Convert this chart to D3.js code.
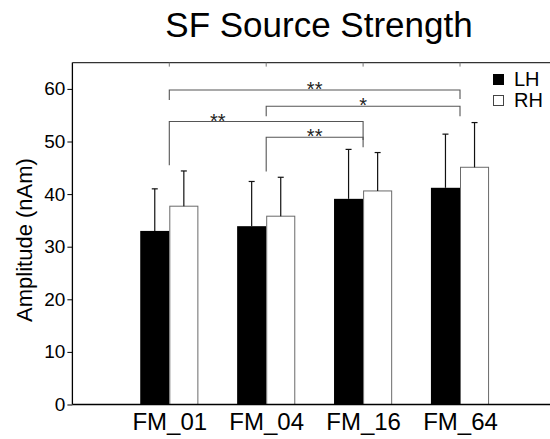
<!DOCTYPE html>
<html><head><meta charset="utf-8">
<script src="https://cdn.jsdelivr.net/npm/d3@7"></script>
<style>body{margin:0;background:#fff}svg{display:block}text{font-family:Arial,"Liberation Sans",Helvetica,sans-serif}</style>
</head><body>
<svg id="c" width="550" height="439"></svg>
<script>
const categories = ["FM_01","FM_04","FM_16","FM_64"];
const lhMean = [33.0, 33.9, 39.1, 41.2];
const lhErr  = [8.0, 8.5, 9.4, 10.2];
const rhMean = [37.7, 35.8, 40.6, 45.1];
const rhErr  = [6.7, 7.4, 7.3, 8.5];
const yTicks = [0,10,20,30,40,50,60];
const seriesNames = ["LH","RH"];
// significance brackets (positions in category units 1..4, values in nAm)
const brFrom   = [1, 2, 1, 2];
const brTo     = [4, 4, 3, 3];
const brY      = [59.8, 56.7, 53.8, 50.8];
const brLeftEnd  = [57.9, 54.8, 45.5, 44.3];
const brRightEnd = [58.1, 54.8, 50.3, 48.9];
const brLabel  = ["**","*","**","**"];
const brLabelX = [2.5, 3.0, 1.5, 2.5];

const svg = d3.select("#c");
const x = d3.scaleLinear().domain([0,5]).range([72.4, 556.9]);
const y = d3.scaleLinear().domain([0,65]).range([404.5, 62.6]);
const barW = 0.3;

// title
svg.append("text").attr("x", 319).attr("y", 37).attr("text-anchor","middle")
  .attr("font-size", 35).text("SF Source Strength");

// y label
svg.append("text").attr("transform","translate(32,240) rotate(-90)")
  .attr("text-anchor","middle").attr("font-size", 22).text("Amplitude (nAm)");

// bars
const g = svg.append("g");
categories.forEach((c,i)=>{
  const xi = i+1;
  g.append("rect").attr("x", x(xi-barW)).attr("width", x(xi)-x(xi-barW))
    .attr("y", y(lhMean[i])).attr("height", y(0)-y(lhMean[i])).attr("fill","#000");
  g.append("rect").attr("x", x(xi)+0.5).attr("width", x(xi+barW)-x(xi)-1)
    .attr("y", y(rhMean[i])).attr("height", y(0)-y(rhMean[i]))
    .attr("fill","#fff").attr("stroke","#6a6a6a").attr("stroke-width",1);
  // error bars (upper)
  [[xi-barW/2, lhMean[i], lhErr[i]],[xi+barW/2, rhMean[i], rhErr[i]]].forEach(([cx,m,e])=>{
    g.append("line").attr("x1",x(cx)).attr("x2",x(cx)).attr("y1",y(m)).attr("y2",y(m+e))
      .attr("stroke","#111").attr("stroke-width",1.2);
    g.append("line").attr("x1",x(cx)-3).attr("x2",x(cx)+3).attr("y1",y(m+e)).attr("y2",y(m+e))
      .attr("stroke","#111").attr("stroke-width",1.2);
  });
});

// axes box
const yAxis = d3.axisLeft(y).tickValues(yTicks).tickSize(5).tickPadding(2);
const ya = svg.append("g").attr("transform",`translate(${x(0)},0)`).call(yAxis);
ya.select(".domain").remove();
ya.selectAll("line").attr("stroke","#000");
ya.selectAll("text").attr("font-size",19).attr("fill","#000");
svg.append("line").attr("x1",x(0)).attr("x2",x(0)).attr("y1",y(65)).attr("y2",y(0)).attr("stroke","#000").attr("stroke-width",1.3);
svg.append("line").attr("x1",x(0)).attr("x2",x(5)).attr("y1",y(0)).attr("y2",y(0)).attr("stroke","#000").attr("stroke-width",1.5);
svg.append("line").attr("x1",x(0)).attr("x2",x(5)).attr("y1",y(65)).attr("y2",y(65)).attr("stroke","#333").attr("stroke-width",1.2);
// top mirrored ticks (inward)
categories.forEach((c,i)=>{
  svg.append("line").attr("x1",x(i+1)).attr("x2",x(i+1)).attr("y1",y(65)).attr("y2",y(65)+4)
    .attr("stroke","#777").attr("stroke-width",1);
});
// x labels
const xAxis = d3.axisBottom(x).tickValues([1,2,3,4]).tickFormat((d)=>categories[d-1]).tickSize(0).tickPadding(8);
const xa = svg.append("g").attr("transform",`translate(0,${y(0)})`).call(xAxis);
xa.select(".domain").remove();
xa.selectAll("text").attr("font-size",24).attr("fill","#000");

// brackets
brFrom.forEach((f,i)=>{
  const t = brTo[i];
  svg.append("path")
    .attr("d", `M${x(f)},${y(brLeftEnd[i])}V${y(brY[i])}H${x(t)}V${y(brRightEnd[i])}`)
    .attr("fill","none").attr("stroke","#555").attr("stroke-width",1.1);
  svg.append("text").attr("x", x(brLabelX[i])).attr("y", y(brY[i])+6).attr("text-anchor","middle")
    .attr("font-size",20).attr("fill","#222").text(brLabel[i]);
});

// legend
const lg = svg.append("g");
seriesNames.forEach((s,i)=>{
  const yy = 74 + i*21;
  lg.append("rect").attr("x",493.5).attr("y",yy+0.5).attr("width",10).attr("height",10)
    .attr("fill", i===0?"#000":"#fff").attr("stroke", i===0?"#000":"#444").attr("stroke-width",1);
  lg.append("text").attr("x",514).attr("y",yy+12).attr("font-size",20).text(s);
});
</script>
</body></html>
